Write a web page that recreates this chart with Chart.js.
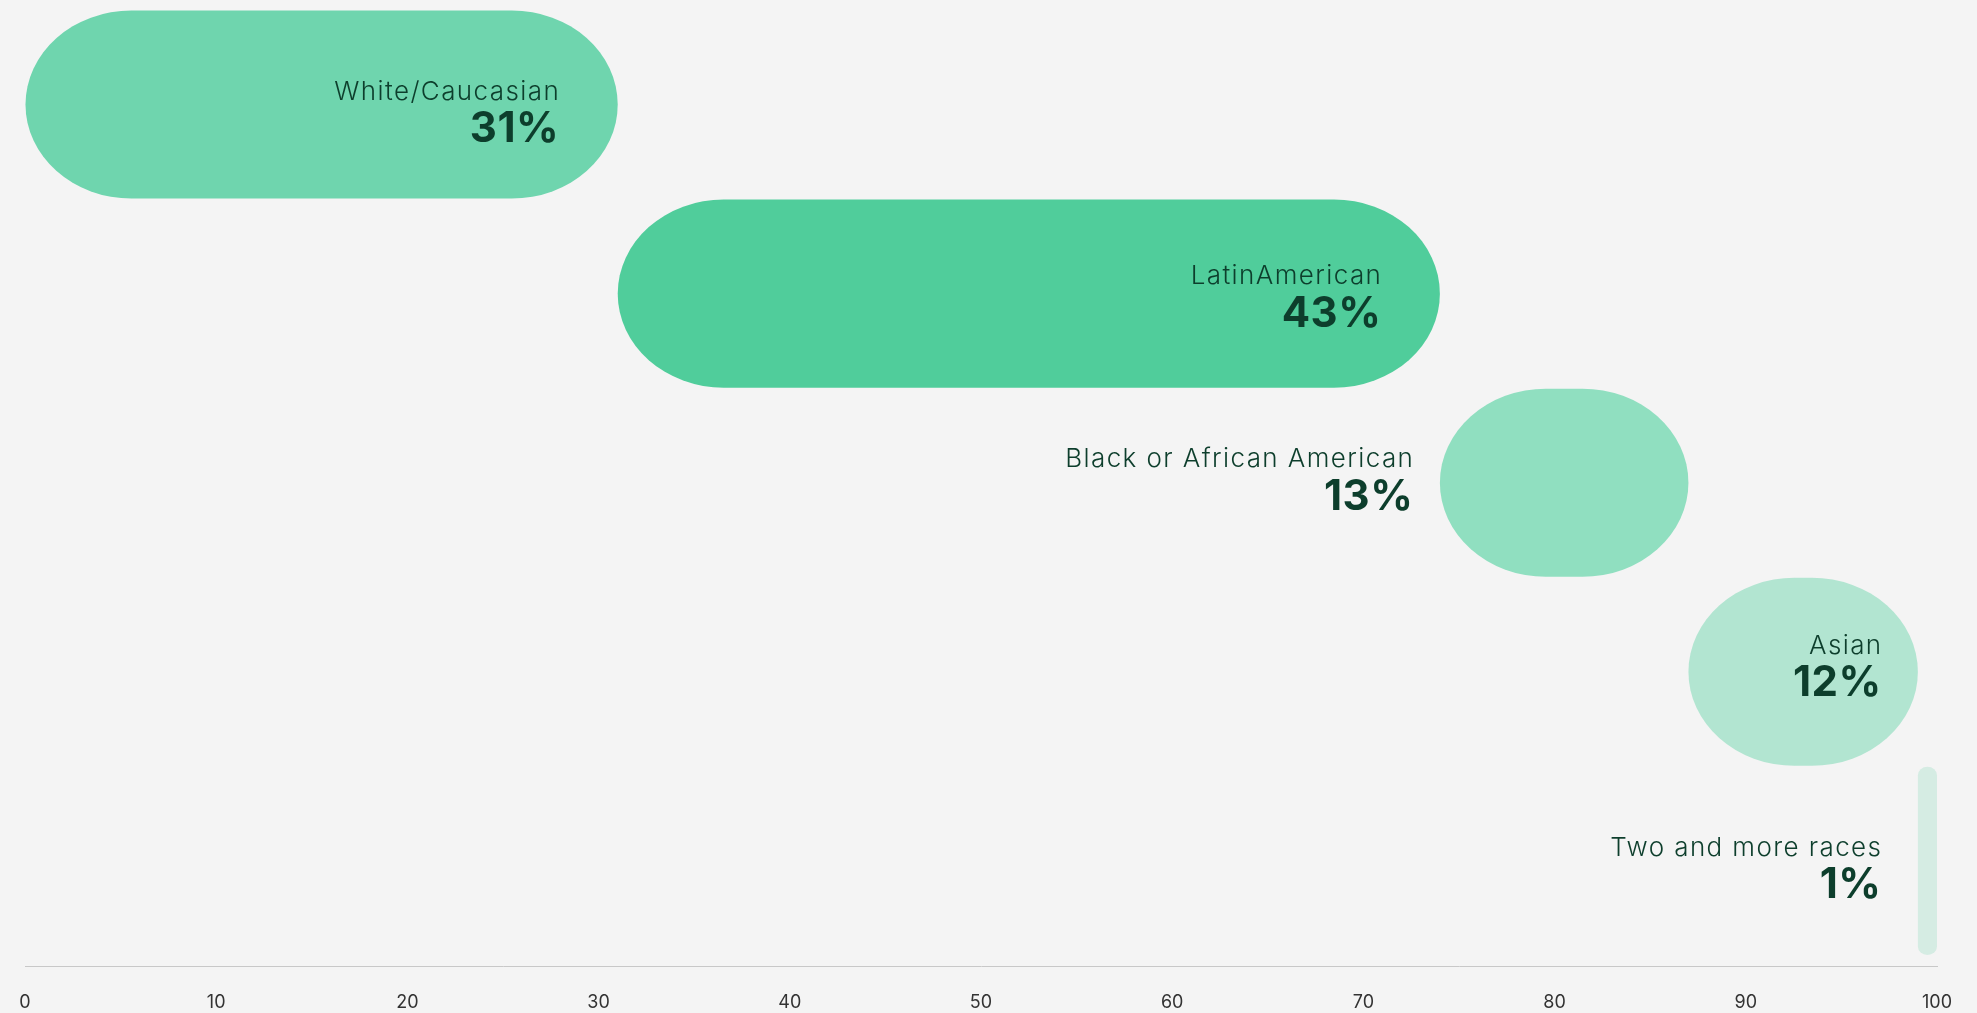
<!DOCTYPE html>
<html>
<head>
<meta charset="utf-8">
<script src="https://cdn.jsdelivr.net/npm/chart.js@4.4.0/dist/chart.umd.min.js"></script>
<style>
  html, body { margin: 0; padding: 0; background: #f4f4f4; }
  #wrap { width: 1977px; height: 1013px; position: relative; }
</style>
</head>
<body>
<div id="wrap"><canvas id="chart"></canvas></div>
<script>
var categories = ['White/Caucasian', 'LatinAmerican', 'Black or African American', 'Asian', 'Two and more races'];
var shares = [31, 43, 13, 12, 1];
var barColors = ['#6fd5ae', '#50cd9b', '#90dfc0', '#b2e5d1', '#d5ece3'];

// each group starts where the previous one stopped
var start = 0;
var floating = shares.map(function(v, i) {
  var d = { y: i, x: [start, start + v] };
  start += v;
  return d;
});

var textColor = '#0d3e2c';
var nameFont = '300 26px Inter';
var pctFont = '700 42px Inter';

// bars with elliptical ends
var pillBars = {
  id: 'pillBars',
  beforeDatasetDraw: function(chart, args) {
    var ctx = chart.ctx;
    args.meta.data.forEach(function(bar) {
      var p = bar.getProps(['x', 'y', 'base', 'height'], true);
      var left = Math.min(p.x, p.base);
      var w = Math.abs(p.x - p.base);
      var top = p.y - p.height / 2;
      ctx.save();
      ctx.fillStyle = bar.options.backgroundColor;
      ctx.beginPath();
      ctx.roundRect(left, top, w, p.height, [{ x: 106, y: p.height / 2 }]);
      ctx.fill();
      ctx.restore();
    });
    return false;
  }
};

var barLabels = {
  id: 'barLabels',
  afterDatasetsDraw: function(chart, args, opts) {
    var ctx = chart.ctx;
    var meta = chart.getDatasetMeta(0);
    meta.data.forEach(function(bar, i) {
      var p = bar.getProps(['x', 'y', 'base'], true);
      var name = categories[i];
      var pct = shares[i] + '%';
      ctx.save();
      ctx.font = nameFont;
      ctx.letterSpacing = '1.4px';
      var tw = ctx.measureText(name).width;
      ctx.font = pctFont;
      ctx.letterSpacing = '0.5px';
      tw = Math.max(tw, ctx.measureText(pct).width);
      var w = Math.abs(p.x - p.base);
      var pad = Math.min(59, w * 0.16);
      var right;
      if (tw + pad * 2 < w) {
        right = p.x - pad;
      } else {
        right = Math.min(p.base - 27, chart.chartArea.right - 56);
      }
      var cy = p.y + opts.shift[i];
      ctx.fillStyle = textColor;
      ctx.textAlign = 'right';
      ctx.textBaseline = 'alphabetic';
      ctx.font = nameFont;
      ctx.letterSpacing = '1.4px';
      ctx.fillText(name, right + 1.4, cy - 21);
      ctx.font = pctFont;
      ctx.letterSpacing = '0.5px';
      ctx.fillText(pct, right + 0.5, cy + 21.5);
      ctx.restore();
    });
  }
};

var chart = new Chart('chart', {
  type: 'bar',
  data: {
    labels: categories,
    datasets: [
      {
        data: floating,
        backgroundColor: barColors,
        borderWidth: 0,
        barPercentage: 0.995,
        categoryPercentage: 1
      }
    ]
  },
  options: {
    indexAxis: 'y',
    responsive: true,
    maintainAspectRatio: false,
    animation: false,
    layout: { padding: { top: 10, left: 25, right: 40, bottom: 0 } },
    plugins: {
      legend: { display: false },
      tooltip: { enabled: false },
      barLabels: { shift: [16, 11.5, 5.5, 3, 16] }
    },
    scales: {
      x: {
        type: 'linear',
        min: 0,
        max: 100,
        ticks: {
          stepSize: 10,
          padding: 25,
          color: '#333333',
          font: { family: 'Inter', size: 18, weight: 400 }
        },
        grid: { drawOnChartArea: false, drawTicks: false },
        border: { color: '#c8c8c8', width: 1 },
        afterFit: function(scale) {
          // no empty band under the tick labels, side room comes from layout padding
          scale.height -= 25;
          scale.paddingLeft = 0;
          scale.paddingRight = 0;
        }
      },
      y: {
        type: 'linear',
        reverse: true,
        min: -0.5,
        max: 4.558,
        offset: false,
        bounds: 'data',
        display: false
      }
    }
  },
  plugins: [pillBars, barLabels]
});
</script>
</body>
</html>
